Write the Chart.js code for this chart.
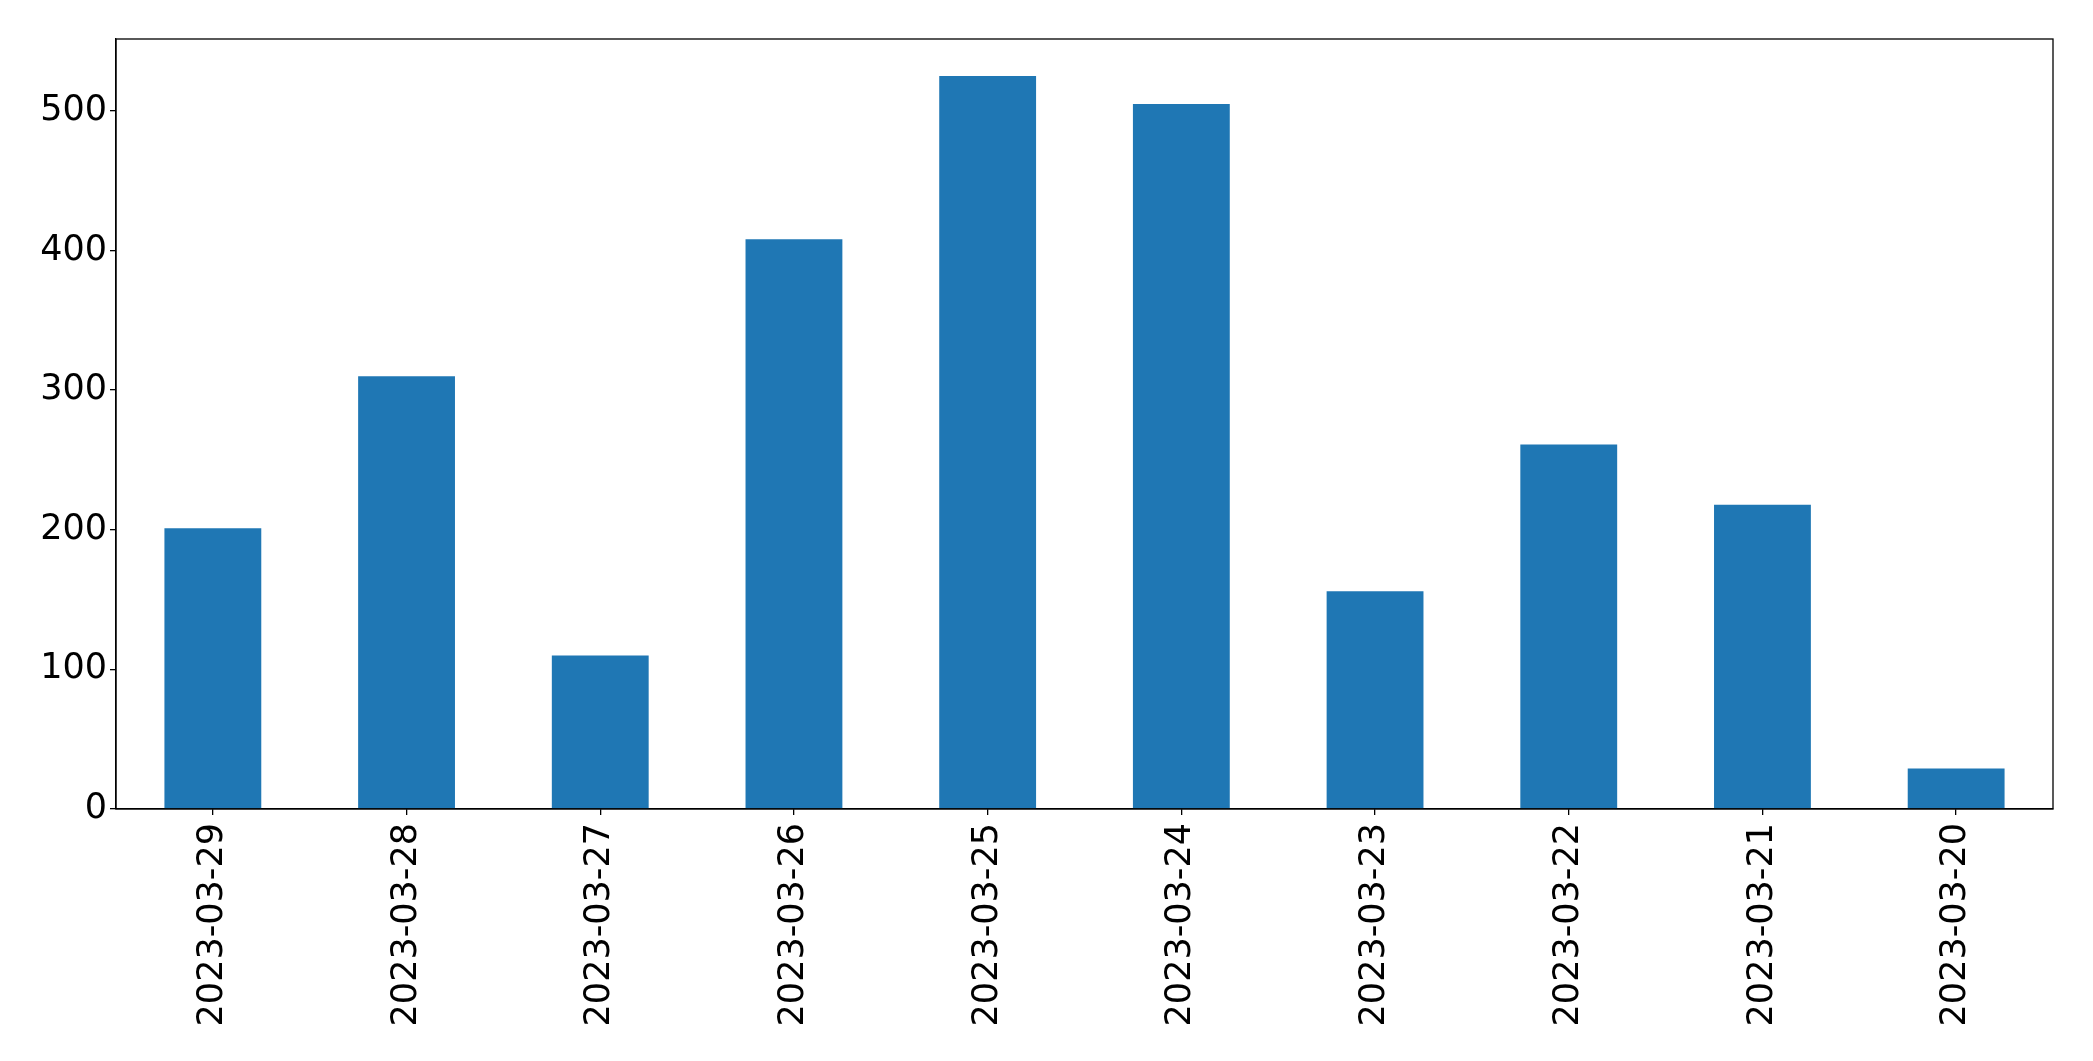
<!DOCTYPE html>
<html>
<head>
<meta charset="utf-8">
<title>Bar chart</title>
<script src="https://cdn.jsdelivr.net/npm/chart.js@4.4.0/dist/chart.umd.min.js"></script>
<style>
  html, body { margin: 0; padding: 0; background: #fff; }
  canvas { display: block; }
</style>
</head>
<body>
<canvas id="chart" width="2093" height="1061"></canvas>
<script>
// data
const dates = ['2023-03-29', '2023-03-28', '2023-03-27', '2023-03-26', '2023-03-25',
               '2023-03-24', '2023-03-23', '2023-03-22', '2023-03-21', '2023-03-20'];
const counts = [201, 310, 110, 408, 525, 505, 156, 261, 218, 29];
const yTicks = [0, 100, 200, 300, 400, 500];

const barColor = '#1f77b4';
const fontFamily = "'DejaVu Sans', sans-serif";

// draws the full box round the plot area (matplotlib style frame)
const frame = {
  id: 'frame',
  afterDraw(chart) {
    const { ctx, chartArea: a } = chart;
    ctx.save();
    ctx.strokeStyle = '#000';
    ctx.lineWidth = 1.3;
    ctx.strokeRect(a.left, a.top, a.right - a.left, a.bottom - a.top);
    ctx.restore();
  }
};

const ctx = document.getElementById('chart').getContext('2d');
new Chart(ctx, {
  type: 'bar',
  data: {
    labels: dates,
    datasets: [{
      data: counts,
      backgroundColor: barColor,
      borderWidth: 0,
      barPercentage: 0.5,
      categoryPercentage: 1.0
    }]
  },
  options: {
    responsive: false,
    animation: false,
    layout: { padding: { top: 39, right: 40, left: 0, bottom: 0 } },
    plugins: {
      legend: { display: false },
      tooltip: { enabled: false }
    },
    scales: {
      x: {
        offset: true,
        grid: { offset: false, drawOnChartArea: false, drawTicks: true, tickLength: 6, color: '#000', lineWidth: 1.3 },
        border: { display: true, color: '#000', width: 1.3 },
        ticks: {
          color: '#000',
          font: { family: fontFamily, size: 35 },
          maxRotation: 90,
          minRotation: 90,
          padding: 8,
          autoSkip: false
        },
        afterFit(scale) { scale.height = 252; }
      },
      y: {
        min: 0,
        max: 551.5,
        grid: { drawOnChartArea: false, drawTicks: true, tickLength: 6, color: '#000', lineWidth: 1.3 },
        border: { display: true, color: '#000', width: 1.3 },
        ticks: {
          color: '#000',
          font: { family: fontFamily, size: 35 },
          padding: 3,
          stepSize: 100
        },
        afterBuildTicks(scale) {
          scale.ticks = yTicks.map((v) => ({ value: v }));
        },
        afterFit(scale) { scale.width = 116; }
      }
    }
  },
  plugins: [frame]
});
</script>
</body>
</html>
